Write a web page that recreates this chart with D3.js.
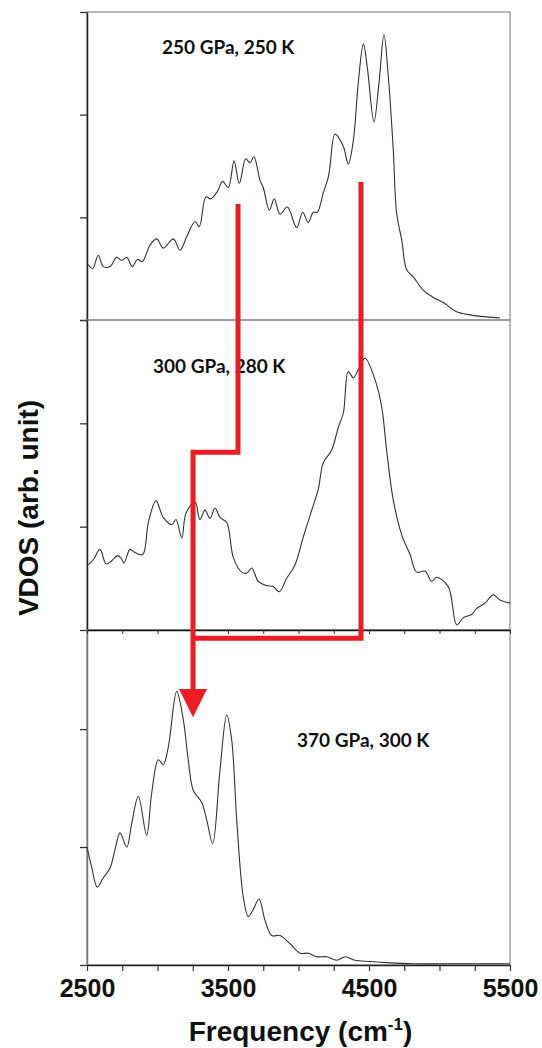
<!DOCTYPE html>
<html>
<head>
<meta charset="utf-8">
<script src="https://cdn.jsdelivr.net/npm/d3@7"></script>
<style>
  body { margin: 0; background: #fff; }
  svg { display: block; }
  .lbl { font-family: Lato, "Open Sans", sans-serif; font-weight: bold; font-size: 19px; fill: #111; }
  .ax text { font-family: "Liberation Sans", Arial, sans-serif; font-weight: bold; font-size: 25px; fill: #111; }
  .title { font-family: "Liberation Sans", Arial, sans-serif; font-weight: bold; font-size: 28px; fill: #111; }
</style>
</head>
<body>
<svg id="chart" width="542" height="1048"></svg>
<script>
// frequency (cm-1) and VDOS values
const freq250 = [2509,2540,2580,2616,2663,2711,2746,2782,2821,2857,2892,2947,2994,3041,3112,3160,3207,3266,3296,3344,3377,3424,3462,3502,3543,3580,3626,3656,3684,3727,3750,3793,3828,3869,3921,3987,4030,4069,4105,4133,4176,4211,4223,4259,4318,4353,4389,4424,4460,4488,4535,4571,4606,4637,4672,4696,4732,4767,4814,4885,4956,5027,5122,5216,5335,5429];
const vdos250 = [0.54,0.50,0.63,0.52,0.52,0.61,0.58,0.61,0.52,0.59,0.57,0.73,0.79,0.70,0.79,0.68,0.81,0.96,0.91,1.20,1.18,1.25,1.35,1.29,1.55,1.33,1.57,1.53,1.59,1.36,1.29,1.07,1.18,1.03,1.10,0.90,1.05,0.95,1.05,1.05,1.24,1.39,1.49,1.81,1.69,1.52,1.75,2.31,2.69,2.46,1.93,2.31,2.78,2.37,1.66,1.04,0.78,0.49,0.42,0.29,0.22,0.17,0.08,0.05,0.03,0.02];

const freq300 = [2509,2545,2592,2635,2675,2715,2739,2762,2805,2840,2895,2935,2989,3041,3101,3131,3172,3202,3266,3301,3337,3372,3408,3443,3491,3538,3597,3633,3668,3715,3774,3821,3864,3916,3975,4034,4094,4140,4176,4235,4282,4318,4353,4389,4424,4472,4543,4590,4625,4672,4732,4791,4838,4897,4945,4980,5062,5122,5169,5228,5264,5323,5381,5429,5500];
const vdos300 = [0.63,0.68,0.78,0.64,0.67,0.72,0.70,0.65,0.78,0.75,0.73,1.04,1.25,1.09,1.02,1.07,0.89,1.13,1.24,1.07,1.16,1.08,1.18,1.09,1.04,0.70,0.56,0.55,0.60,0.47,0.43,0.42,0.37,0.50,0.63,0.90,1.16,1.36,1.62,1.74,1.96,2.10,2.50,2.44,2.52,2.63,2.42,2.16,1.74,1.26,0.92,0.73,0.56,0.57,0.47,0.51,0.42,0.05,0.12,0.15,0.21,0.26,0.34,0.29,0.26];

const freq370 = [2500,2533,2573,2616,2663,2699,2734,2782,2817,2864,2923,2959,3006,3041,3077,3136,3183,3218,3254,3313,3349,3391,3443,3491,3526,3562,3608,3644,3679,3720,3762,3810,3869,3940,4011,4069,4129,4200,4271,4330,4401,4507,4625,4814,5051,5287,5500];
const vdos370 = [1.00,0.83,0.66,0.74,0.82,0.98,1.12,1.00,1.20,1.43,1.10,1.46,1.74,1.70,1.85,2.32,2.08,1.74,1.48,1.38,1.23,1.03,1.65,2.12,1.91,1.23,0.58,0.41,0.47,0.56,0.38,0.25,0.25,0.18,0.10,0.10,0.07,0.07,0.04,0.07,0.04,0.03,0.02,0.01,0.01,0.01,0.01];

const panelLabels = ["250 GPa, 250 K", "300 GPa, 280 K", "370 GPa, 300 K"];
const xTicks = [2500,2750,3000,3250,3500,3750,4000,4250,4500,4750,5000,5250,5500];
const xLabels = [2500, 3500, 4500, 5500];

// red guide lines, as [panel, frequency, vdos]
const guideA = [[0,3571,1.13],[1,3571,1.72],[1,3252,1.72],[2,3252,2.34]];
const guideB = [[0,4443,1.345],[2,4443,2.77],[2,3252,2.77]];
const arrowTip = [2,3252,2.10];

const svg = d3.select('#chart');
const x = d3.scaleLinear().domain([2500,5500]).range([87,510]);

const panels = [
  { f: freq250, v: vdos250, y: d3.scaleLinear().domain([0,3]).range([320,12]), ticks: [0,1,2,3], label: [162,54] },
  { f: freq300, v: vdos300, y: d3.scaleLinear().domain([0,3]).range([630,320]), ticks: [0,1,2,3], label: [153,373] },
  { f: freq370, v: vdos370, y: d3.scaleLinear().domain([0,2.84]).range([965,630]), ticks: [0,1,2], label: [297,747] },
];

const line = d3.line().curve(d3.curveCatmullRom.alpha(0.5));

panels.forEach((p, i) => {
  const g = svg.append('g');
  const [yb, yt] = p.y.range();

  // frame
  g.append('rect')
    .attr('x', x(2500)).attr('y', yt)
    .attr('width', x(5500) - x(2500)).attr('height', yb - yt)
    .attr('fill', 'none').attr('stroke', '#8a8a8a').attr('stroke-width', 1.2);

  // left axis
  const ya = g.append('g').attr('class', 'ax')
    .attr('transform', 'translate(' + x(2500) + ',0)')
    .call(d3.axisLeft(p.y).tickValues(p.ticks).tickSize(7).tickSizeOuter(0).tickFormat(''));
  ya.select('.domain').attr('stroke', i == 2 ? '#777' : '#222').attr('stroke-width', 1.5);
  ya.selectAll('.tick line').attr('stroke', '#333').attr('stroke-width', 1.3);

  g.append('path')
    .attr('d', line(p.f.map((f, k) => [x(f), p.y(p.v[k])])))
    .attr('fill', 'none').attr('stroke', '#333').attr('stroke-width', 1.1);

  g.append('text').attr('class', 'lbl')
    .attr('x', p.label[0]).attr('y', p.label[1]).text(panelLabels[i]);
});

// line between middle and lower panel, with its small ticks
const mid = svg.append('g').attr('class', 'ax')
  .attr('transform', 'translate(0,' + panels[1].y(0) + ')')
  .call(d3.axisBottom(x).tickValues(xTicks).tickSize(4).tickSizeOuter(0).tickFormat(''));
mid.select('.domain').attr('stroke', '#111').attr('stroke-width', 1.5);
mid.selectAll('.tick line').attr('stroke', '#333');

// bottom axis
const bot = svg.append('g').attr('class', 'ax')
  .attr('transform', 'translate(0,' + panels[2].y(0) + ')')
  .call(d3.axisBottom(x).tickValues(xTicks).tickSize(6).tickSizeOuter(0).tickPadding(8)
    .tickFormat(d => xLabels.includes(d) ? d : ''));
bot.select('.domain').attr('stroke', '#222').attr('stroke-width', 1.5);
bot.selectAll('.tick line').attr('stroke', '#333').attr('stroke-width', 1.2);

// axis titles
const xt = svg.append('text').attr('class', 'title')
  .attr('x', (x(2500) + x(5500)) / 2 + 2).attr('y', 1041).attr('text-anchor', 'middle');
xt.append('tspan').text('Frequency (cm');
xt.append('tspan').attr('font-size', '17px').attr('dy', -11).text('-1');
xt.append('tspan').attr('dy', 11).text(')');

svg.append('text').attr('class', 'title')
  .attr('transform', 'translate(38,508) rotate(-90)')
  .attr('text-anchor', 'middle').text('VDOS (arb. unit)');

// red guide lines
const pt = d => [x(d[1]), panels[d[0]].y(d[2])];
const red = '#ec1c24';
[guideA, guideB].forEach(gd => {
  svg.append('path')
    .attr('d', d3.line()(gd.map(pt)))
    .attr('fill', 'none').attr('stroke', red).attr('stroke-width', 5)
    .attr('stroke-linejoin', 'miter');
});
const tip = pt(arrowTip);
const base = pt(guideA[guideA.length - 1]);
svg.append('path')
  .attr('d', d3.line()([[tip[0] - 14, base[1]], [tip[0] + 14, base[1]], tip]) + 'Z')
  .attr('fill', red);
</script>
</body>
</html>
